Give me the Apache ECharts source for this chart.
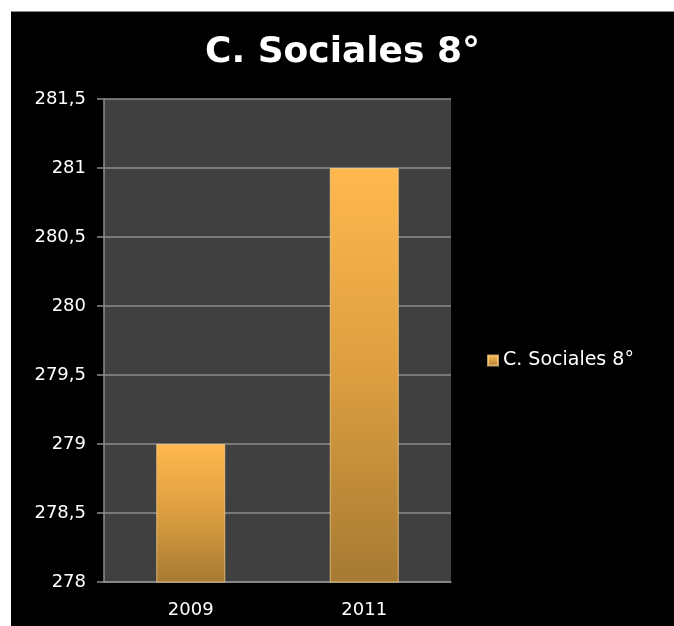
<!DOCTYPE html>
<html>
<head>
<meta charset="utf-8">
<script src="https://cdn.jsdelivr.net/npm/echarts@6/dist/echarts.min.js"></script>
<style>
  html, body { margin: 0; padding: 0; background: #fff; overflow: hidden; }
  #chart {
    position: absolute;
    left: 11px;
    top: 11px;
    right: 0;
    bottom: 0;
    background: #000;
    border-top: 1px solid #888;
  }
</style>
</head>
<body>
<div id="chart"></div>
<script>
// datos del gráfico
const years = ['2009', '2011']
const values = [279, 281]
const seriesName = 'C. Sociales 8°'
const yMin = 278
const yMax = 281.5
const yStep = 0.5

const chart = echarts.init(document.getElementById('chart'))

// gradiente de las barras (naranja claro arriba, más oscuro abajo)
const barColor = new echarts.graphic.LinearGradient(0, 0, 0, 1, [
  { offset: 0, color: '#ffb84e' },
  { offset: 0.5, color: '#dc9e40' },
  { offset: 1, color: '#a67a33' },
])

chart.setOption({
  backgroundColor: '#000',
  animation: false,
  title: {
    text: 'C. Sociales 8°',
    left: 189,
    top: 18,
    textStyle: {
      color: '#fff',
      fontFamily: 'DejaVu Sans',
      fontWeight: 'bold',
      fontSize: 36,
    },
  },
  legend: {
    left: 471,
    top: 334,
    itemWidth: 10,
    itemHeight: 10,
    icon: 'rect',
    textStyle: {
      color: '#fff',
      fontFamily: 'DejaVu Sans',
      fontSize: 19,
    },
    data: [seriesName],
  },
  grid: {
    left: 93,
    top: 87,
    width: 347,
    height: 483,
    show: true,
    backgroundColor: '#404040',
    borderWidth: 0,
  },
  xAxis: {
    type: 'category',
    data: years,
    axisLine: { lineStyle: { color: '#8c8c8c', width: 1.5 } },
    axisTick: { length: 7, lineStyle: { color: '#8c8c8c', width: 1.5 } },
    axisLabel: {
      color: '#fff',
      fontFamily: 'DejaVu Sans',
      fontSize: 18,
      margin: 19,
    },
  },
  yAxis: {
    type: 'value',
    min: yMin,
    max: yMax,
    interval: yStep,
    axisLine: { show: true, lineStyle: { color: '#8c8c8c', width: 1.5 } },
    axisTick: { show: true, length: 7, lineStyle: { color: '#8c8c8c', width: 1.5 } },
    axisLabel: {
      color: '#fff',
      fontFamily: 'DejaVu Sans',
      fontSize: 18,
      margin: 18,
      formatter: (v) => String(v).replace('.', ','),
    },
    splitLine: { lineStyle: { color: '#8c8c8c', width: 1.5 } },
  },
  series: [
    {
      name: seriesName,
      type: 'bar',
      data: values,
      barWidth: 69,
      itemStyle: {
        color: barColor,
        borderColor: 'rgba(255, 214, 140, 0.7)',
        borderWidth: 1,
      },
    },
  ],
})
</script>
</body>
</html>
